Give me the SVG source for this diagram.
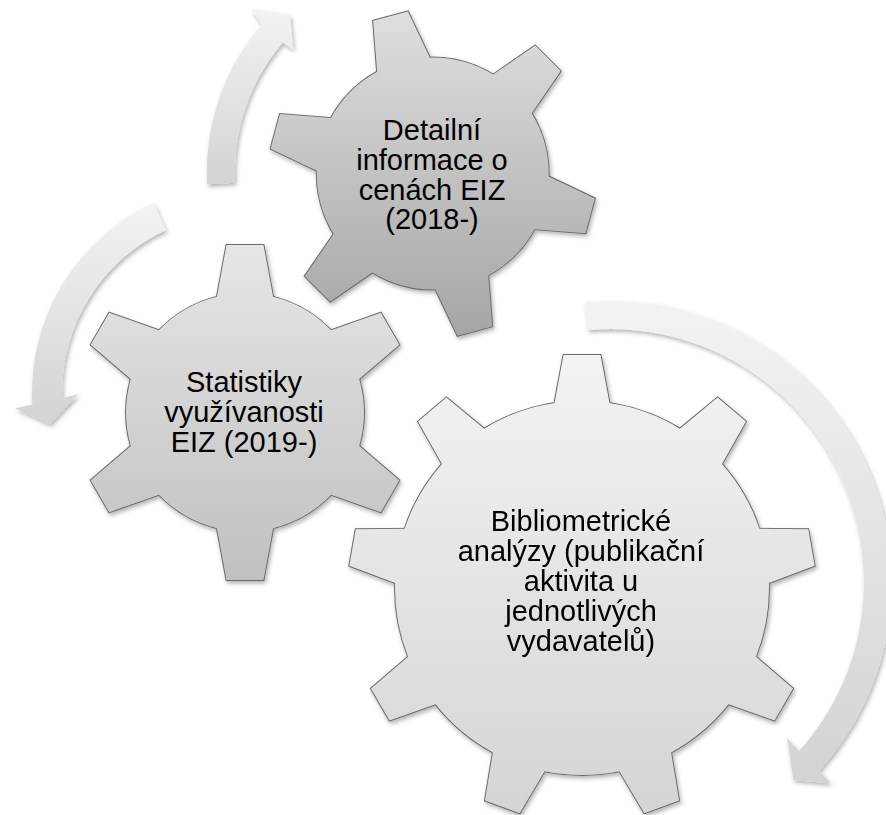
<svg xmlns="http://www.w3.org/2000/svg" width="886" height="815" viewBox="0 0 886 815">
<style>
.ol{fill:none;stroke:#6b6b6b;stroke-width:2;stroke-linejoin:miter}
.lbl{font-family:"Liberation Sans",Arial,sans-serif;font-size:29px;fill:#000;text-anchor:middle}
.arrow{fill:url(#ga)}
</style>
<defs>
<filter id="sh" x="-10%" y="-10%" width="130%" height="130%">
<feDropShadow dx="1.5" dy="2.5" stdDeviation="2" flood-color="#000" flood-opacity="0.3"/>
</filter>
<linearGradient id="ga" x1="0" y1="0" x2="0" y2="1"><stop offset="0" stop-color="#f3f3f3"/><stop offset="1" stop-color="#d3d3d3"/></linearGradient>
<linearGradient id="g1" x1="0" y1="0" x2="0" y2="1"><stop offset="0" stop-color="#e0e0e0"/><stop offset="1" stop-color="#a4a4a4"/></linearGradient>
<linearGradient id="g2" x1="0" y1="0" x2="0" y2="1"><stop offset="0" stop-color="#e6e6e6"/><stop offset="1" stop-color="#c0c0c0"/></linearGradient>
<linearGradient id="g3" x1="0" y1="0" x2="0" y2="1"><stop offset="0" stop-color="#f3f3f3"/><stop offset="1" stop-color="#d4d4d4"/></linearGradient>
<polygon id="t9" points="-18.5,-233 18.5,-233 30.3,-170 -30.3,-170"/>
<polygon id="t6a" points="-18.5,-167.5 18.5,-167.5 31,-100 -31,-100"/>
<polygon id="t6b" points="-18,-163 18,-163 30.2,-97 -30.2,-97"/>
<clipPath id="c1">
<circle cx="432.7" cy="173.6" r="116"/>
<use href="#t6b" transform="translate(432.7 173.6) rotate(-15)"/>
<use href="#t6b" transform="translate(432.7 173.6) rotate(45)"/>
<use href="#t6b" transform="translate(432.7 173.6) rotate(105)"/>
<use href="#t6b" transform="translate(432.7 173.6) rotate(165)"/>
<use href="#t6b" transform="translate(432.7 173.6) rotate(225)"/>
<use href="#t6b" transform="translate(432.7 173.6) rotate(285)"/>
</clipPath>
<clipPath id="c2">
<circle cx="245" cy="412.5" r="119"/>
<use href="#t6a" transform="translate(245 412.5) rotate(0)"/>
<use href="#t6a" transform="translate(245 412.5) rotate(60)"/>
<use href="#t6a" transform="translate(245 412.5) rotate(120)"/>
<use href="#t6a" transform="translate(245 412.5) rotate(180)"/>
<use href="#t6a" transform="translate(245 412.5) rotate(240)"/>
<use href="#t6a" transform="translate(245 412.5) rotate(300)"/>
</clipPath>
<clipPath id="c3">
<circle cx="582" cy="588" r="187"/>
<use href="#t9" transform="translate(582 588) rotate(0)"/>
<use href="#t9" transform="translate(582 588) rotate(40)"/>
<use href="#t9" transform="translate(582 588) rotate(80)"/>
<use href="#t9" transform="translate(582 588) rotate(120)"/>
<use href="#t9" transform="translate(582 588) rotate(160)"/>
<use href="#t9" transform="translate(582 588) rotate(200)"/>
<use href="#t9" transform="translate(582 588) rotate(240)"/>
<use href="#t9" transform="translate(582 588) rotate(280)"/>
<use href="#t9" transform="translate(582 588) rotate(320)"/>
</clipPath>
</defs>

<g id="connectors" filter="url(#sh)">
<path class="arrow" d="M207.05,184.3 A227,227 0 0 1 261.65,24.4 L251.7,9.3 L290,15 L293.3,50 L282.85,42.6 A199,199 0 0 0 235.05,182.8 Z"/>
<path class="arrow" d="M153.3,202.7 A210,210 0 0 0 32.3,404.4 L15,408.3 L50,424 L78.3,394.3 L62.07,398 A180,180 0 0 1 165.9,229.9 Z"/>
<path class="arrow" d="M585.3,302.2 A281,281 0 0 1 819.2,770.8 L830.7,783.3 L793.3,780 L787.3,738.3 L799,751.3 A253,253 0 0 0 587.9,330.1 Z"/>
</g>

<g id="node-detailni">
<g filter="url(#sh)">
<g class="ol" transform="translate(432.7 173.6)">
<circle r="116"/>
<use href="#t6b" transform="rotate(-15)"/>
<use href="#t6b" transform="rotate(45)"/>
<use href="#t6b" transform="rotate(105)"/>
<use href="#t6b" transform="rotate(165)"/>
<use href="#t6b" transform="rotate(225)"/>
<use href="#t6b" transform="rotate(285)"/>
</g>
<rect x="262" y="5" width="345" height="338" fill="url(#g1)" clip-path="url(#c1)"/>
</g>
<text class="lbl"><tspan x="432" y="140">Detailní</tspan><tspan x="432" y="170">informace o</tspan><tspan x="432" y="200">cenách EIZ</tspan><tspan x="432" y="229">(2018-)</tspan></text>
</g>

<g id="node-statistiky">
<g filter="url(#sh)">
<g class="ol" transform="translate(245 412.5)">
<circle r="119"/>
<use href="#t6a" transform="rotate(0)"/>
<use href="#t6a" transform="rotate(60)"/>
<use href="#t6a" transform="rotate(120)"/>
<use href="#t6a" transform="rotate(180)"/>
<use href="#t6a" transform="rotate(240)"/>
<use href="#t6a" transform="rotate(300)"/>
</g>
<rect x="75" y="243" width="340" height="340" fill="url(#g2)" clip-path="url(#c2)"/>
</g>
<text class="lbl"><tspan x="244" y="392">Statistiky</tspan><tspan x="244" y="422">využívanosti</tspan><tspan x="244" y="452">EIZ (2019-)</tspan></text>
</g>

<g id="node-bibliometricke">
<g filter="url(#sh)">
<g class="ol" transform="translate(582 588)">
<circle r="187"/>
<use href="#t9" transform="rotate(0)"/>
<use href="#t9" transform="rotate(40)"/>
<use href="#t9" transform="rotate(80)"/>
<use href="#t9" transform="rotate(120)"/>
<use href="#t9" transform="rotate(160)"/>
<use href="#t9" transform="rotate(200)"/>
<use href="#t9" transform="rotate(240)"/>
<use href="#t9" transform="rotate(280)"/>
<use href="#t9" transform="rotate(320)"/>
</g>
<rect x="345" y="352" width="475" height="472" fill="url(#g3)" clip-path="url(#c3)"/>
</g>
<text class="lbl"><tspan x="581" y="531">Bibliometrické</tspan><tspan x="581" y="561">analýzy (publikační</tspan><tspan x="581" y="591">aktivita u</tspan><tspan x="581" y="621">jednotlivých</tspan><tspan x="581" y="651">vydavatelů)</tspan></text>
</g>
</svg>
